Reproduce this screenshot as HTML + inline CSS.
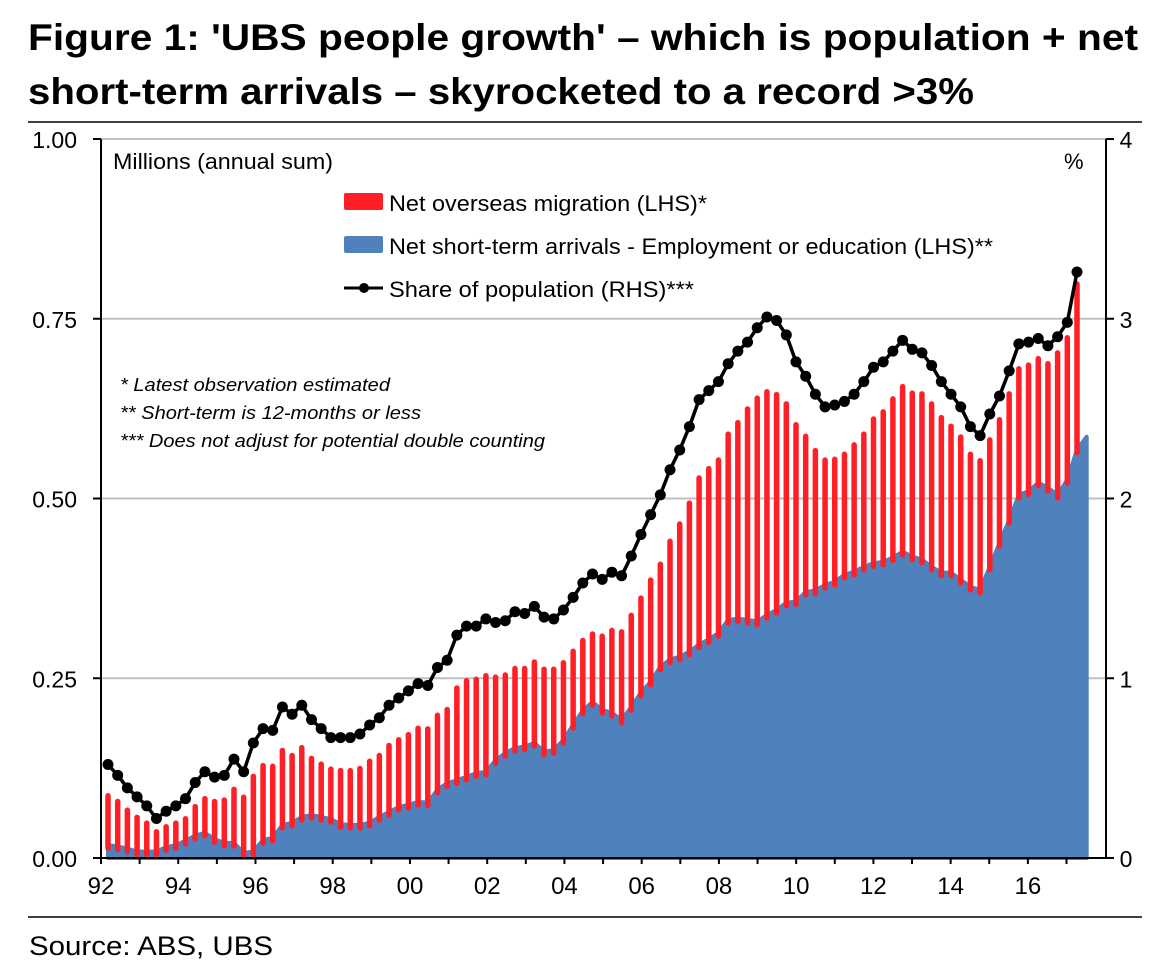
<!DOCTYPE html>
<html><head><meta charset="utf-8"><style>
html,body{margin:0;padding:0;background:#fff;}
svg{display:block;font-family:"Liberation Sans",Arial,sans-serif;}
</style></head><body>
<svg id="chart" width="1174" height="980" viewBox="0 0 1174 980" xmlns="http://www.w3.org/2000/svg">
<text x="28" y="50" font-size="37" font-weight="bold" textLength="1110" lengthAdjust="spacingAndGlyphs">Figure 1: 'UBS people growth' – which is population + net</text>
<text x="28" y="104" font-size="37" font-weight="bold" textLength="946" lengthAdjust="spacingAndGlyphs">short-term arrivals – skyrocketed to a record &gt;3%</text>
<line x1="28" y1="122" x2="1142" y2="122" stroke="#000" stroke-width="1.5"/>
<g id="grid"></g>
<g id="blue"></g>
<g id="red"></g>
<g id="line"></g>
<g id="axes"></g>
<text x="113" y="169" font-size="22" textLength="220" lengthAdjust="spacingAndGlyphs">Millions (annual sum)</text>
<text x="1064" y="169" font-size="22">%</text>
<g>
<rect x="344" y="193" width="39" height="17" rx="2" fill="#ff1f26"/>
<text x="389" y="211" font-size="22" textLength="318" lengthAdjust="spacingAndGlyphs">Net overseas migration (LHS)*</text>
<rect x="344" y="236" width="39" height="17" rx="2" fill="#4f81bd"/>
<text x="389" y="254" font-size="22" textLength="604" lengthAdjust="spacingAndGlyphs">Net short-term arrivals - Employment or education (LHS)**</text>
<line x1="344" y1="288" x2="383" y2="288" stroke="#000" stroke-width="3"/>
<circle cx="364" cy="288" r="5" fill="#000"/>
<text x="389" y="297" font-size="22" textLength="305" lengthAdjust="spacingAndGlyphs">Share of population (RHS)***</text>
</g>
<g font-style="italic" font-size="18">
<text x="120" y="391" textLength="270" lengthAdjust="spacingAndGlyphs">* Latest observation estimated</text>
<text x="120" y="419" textLength="301" lengthAdjust="spacingAndGlyphs">** Short-term is 12-months or less</text>
<text x="120" y="447" textLength="425" lengthAdjust="spacingAndGlyphs">*** Does not adjust for potential double counting</text>
</g>
<line x1="28" y1="917" x2="1142" y2="917" stroke="#000" stroke-width="1.5"/>
<text x="29" y="955" font-size="27" textLength="244" lengthAdjust="spacingAndGlyphs">Source:  ABS, UBS</text>
</svg>
<script>
const leftTicks=[0,0.25,0.5,0.75,1.0];
const leftTickLabels=["0.00","0.25","0.50","0.75","1.00"];
const rightTicks=[0,1,2,3,4];
const rightTickLabels=["0","1","2","3","4"];
const yearLabels=["92","94","96","98","00","02","04","06","08","10","12","14","16"];
const shortTerm=[0.018,0.016,0.013,0.009,0.009,0.009,0.015,0.018,0.024,0.031,0.035,0.026,0.021,0.021,0.007,0.009,0.025,0.028,0.046,0.049,0.057,0.06,0.057,0.054,0.047,0.046,0.046,0.049,0.057,0.064,0.071,0.074,0.078,0.077,0.095,0.104,0.108,0.113,0.118,0.12,0.136,0.146,0.153,0.155,0.16,0.148,0.15,0.164,0.185,0.205,0.217,0.206,0.202,0.192,0.21,0.23,0.245,0.266,0.276,0.28,0.287,0.297,0.304,0.313,0.331,0.333,0.331,0.329,0.338,0.345,0.355,0.357,0.37,0.372,0.38,0.384,0.394,0.398,0.405,0.41,0.412,0.418,0.426,0.419,0.415,0.405,0.397,0.397,0.387,0.377,0.373,0.405,0.438,0.47,0.505,0.51,0.522,0.515,0.505,0.526,0.568,0.586];
const totalTop=[0.09,0.082,0.07,0.06,0.052,0.04,0.047,0.052,0.058,0.075,0.086,0.082,0.084,0.099,0.088,0.117,0.132,0.131,0.153,0.146,0.157,0.142,0.134,0.127,0.125,0.125,0.128,0.138,0.146,0.16,0.168,0.175,0.184,0.183,0.202,0.21,0.24,0.25,0.252,0.257,0.255,0.258,0.267,0.267,0.276,0.266,0.266,0.275,0.291,0.306,0.315,0.312,0.32,0.318,0.341,0.365,0.39,0.412,0.444,0.468,0.497,0.532,0.545,0.557,0.593,0.609,0.628,0.643,0.652,0.648,0.635,0.606,0.59,0.57,0.557,0.558,0.565,0.578,0.593,0.614,0.624,0.642,0.659,0.65,0.649,0.635,0.616,0.604,0.589,0.565,0.556,0.585,0.613,0.649,0.684,0.689,0.698,0.691,0.706,0.727,0.802];
const sharePct=[0.52,0.46,0.39,0.34,0.29,0.22,0.26,0.29,0.33,0.42,0.48,0.45,0.46,0.55,0.48,0.64,0.72,0.71,0.84,0.80,0.85,0.77,0.72,0.67,0.67,0.67,0.69,0.74,0.78,0.85,0.89,0.93,0.97,0.96,1.06,1.10,1.24,1.29,1.29,1.33,1.31,1.32,1.37,1.36,1.40,1.34,1.33,1.38,1.45,1.53,1.58,1.55,1.59,1.57,1.68,1.80,1.91,2.02,2.16,2.27,2.40,2.55,2.60,2.65,2.75,2.82,2.87,2.95,3.01,2.99,2.91,2.76,2.68,2.58,2.51,2.52,2.54,2.58,2.65,2.73,2.76,2.82,2.88,2.83,2.81,2.74,2.65,2.58,2.51,2.40,2.35,2.47,2.57,2.71,2.86,2.87,2.89,2.85,2.90,2.98,3.26];

const NS="http://www.w3.org/2000/svg";
const X0=101,X1=1106,Y0=858,Y1=139;
function yL(v){return Y0-v/1.0*(Y0-Y1);}
function yR(v){return Y0-v/4*(Y0-Y1);}
function xQ(i){return 108+i*9.69;}
function xYear(k){return X0+k*38.62;}
function mk(tag,parent,attrs){const e=document.createElementNS(NS,tag);for(const k in attrs)e.setAttribute(k,attrs[k]);parent.appendChild(e);return e;}

const grid=document.getElementById('grid');
leftTicks.forEach((t,i)=>{if(t>0){const g=mk('line',grid,{x1:X0,x2:X1,y1:yL(t),y2:yL(t),stroke:'#c0c0c0','stroke-width':2});

}});

const blue=document.getElementById('blue');
let d='M'+xQ(0)+','+Y0;
shortTerm.forEach((v,i)=>{d+=' L'+xQ(i).toFixed(1)+','+yL(v).toFixed(1);});
d+=' L'+xQ(shortTerm.length-1).toFixed(1)+','+Y0+' Z';
const bp=mk('path',blue,{d:d,fill:'#4f81bd',stroke:'#4f81bd','stroke-width':4,'stroke-linejoin':'round'});


mk('rect',blue,{x:X0-6,y:Y0-40,width:6,height:45,fill:'#fff'});

const red=document.getElementById('red');
totalTop.forEach((v,i)=>{const b=mk('line',red,{x1:xQ(i),x2:xQ(i),y1:yL(shortTerm[i])+3,y2:yL(v)+2.5,stroke:'#ff1f26','stroke-width':5.5,'stroke-linecap':'round'});

});

const ln=document.getElementById('line');
const pts=sharePct.map((v,i)=>xQ(i).toFixed(1)+','+yR(v).toFixed(1)).join(' ');
const pl=mk('polyline',ln,{points:pts,fill:'none',stroke:'#000','stroke-width':3.5,'stroke-linejoin':'round'});


sharePct.forEach((v,i)=>{const c=mk('circle',ln,{cx:xQ(i),cy:yR(v),r:5.5,fill:'#000'});

});

const ax=document.getElementById('axes');
mk('line',ax,{x1:X0,x2:X0,y1:Y1,y2:Y0,stroke:'#000','stroke-width':2});
mk('line',ax,{x1:X1,x2:X1,y1:Y1,y2:Y0,stroke:'#000','stroke-width':2});
mk('line',ax,{x1:X0-8,x2:X1,y1:Y0,y2:Y0,stroke:'#000','stroke-width':2});
leftTicks.forEach((t,i)=>{mk('line',ax,{x1:X0-8,x2:X0,y1:yL(t),y2:yL(t),stroke:'#000','stroke-width':2});
const tx=mk('text',ax,{x:77,y:yL(t)+9,'font-size':23,'text-anchor':'end'});tx.textContent=leftTickLabels[i];

});
rightTicks.forEach((t,i)=>{mk('line',ax,{x1:X1,x2:X1+8,y1:yR(t),y2:yR(t),stroke:'#000','stroke-width':2});
const tx=mk('text',ax,{x:1126,y:yR(t)+9,'font-size':23,'text-anchor':'middle'});tx.textContent=rightTickLabels[i];

});
for(let k=0;k<=25;k++){mk('line',ax,{x1:xYear(k),x2:xYear(k),y1:Y0,y2:Y0+6,stroke:'#000','stroke-width':2});}
yearLabels.forEach((l,j)=>{const tx=mk('text',ax,{x:xYear(j*2),y:Y0+36,'font-size':24,'text-anchor':'middle'});tx.textContent=l;

});
</script>
</body></html>
